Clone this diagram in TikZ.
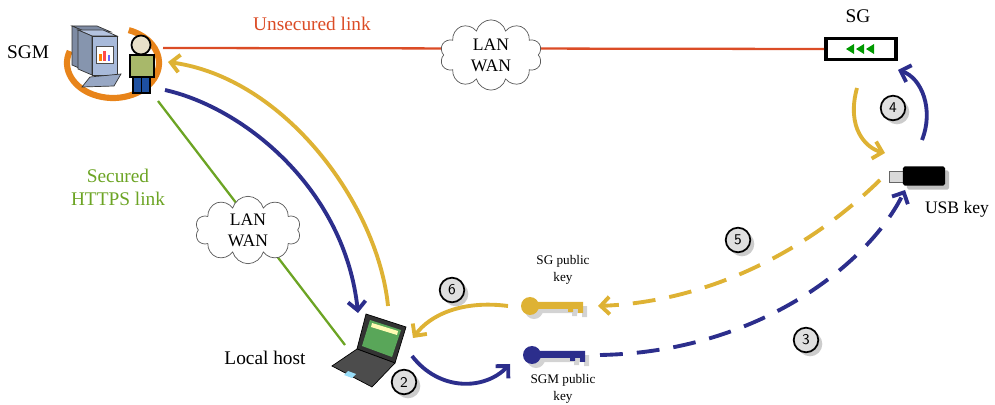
\documentclass[tikz,border=0pt]{standalone}
\usepackage{fontspec}
\setmainfont{Liberation Serif}
\usetikzlibrary{shapes.symbols,arrows.meta,shadows}
\definecolor{linkred}{RGB}{219,76,38}
\definecolor{httpsgreen}{RGB}{108,164,36}
\definecolor{keygold}{RGB}{222,178,52}
\definecolor{keyblue}{RGB}{44,46,140}
\definecolor{screenblue}{RGB}{168,186,218}
\definecolor{swirl}{RGB}{232,132,26}

% numbered step badge
\newcommand{\stepbadge}[3]{
    \node[circle, draw=black, line width=1pt, fill=gray!25, minimum size=14pt,
          inner sep=0pt, drop shadow={opacity=0.4}, font=\sffamily\fontsize{8.5}{8.5}\selectfont]
          (#1) at (#2) {#3};
}

% a key lying on its side, bit to the right
\newcommand{\drawkey}[3]{
    \begin{scope}[shift={(#1)}]
        \fill[#2, drop shadow={opacity=0.35}] (0,0) circle (9)
            (5,-4) -- (53,-4) -- (53,7) -- (48,7) -- (48,3) -- (43,3) -- (43,6)
            -- (38,6) -- (38,3) -- (5,3) -- cycle;
        \coordinate (#3-w) at (-22,0);
        \coordinate (#3-sw) at (-22,9);
        \coordinate (#3-e) at (68,0);
    \end{scope}
}

\begin{document}
\begin{tikzpicture}[x=0.02cm, y=-0.02cm,
    every node/.style={font=\fontsize{11}{13}\selectfont},
    netcloud/.style={cloud, cloud puffs=10, aspect=1.5, draw=gray!70!black, fill=white,
        inner sep=1pt, align=center, font=\fontsize{10}{12}\selectfont},
    flow/.style={line width=2.2pt, -{Straight Barb[length=5pt, width=10pt]}},
    dflow/.style={flow, dash pattern=on 13pt off 8pt}]

    \useasboundingbox (0,0) rectangle (995,405);

    % ---- SGM workstation ----
    \node (sgmlabel) at (28,52) {SGM};
    \draw[swirl, line width=3.5pt] (113,63) ++(-70:46 and 35) arc (-70:200:46 and 35);
    % computer: back box, front box, screen, keyboard
    \begin{scope}[shift={(-6,-4)}]
        \filldraw[fill=screenblue!75!black, draw=black!80] (92,36) -- (78,30) -- (103,30) -- (117,36) -- cycle;
        \filldraw[fill=screenblue!75!black, draw=black!80] (92,36) -- (78,30) -- (78,69) -- (92,75) -- cycle;
    \end{scope}
    \filldraw[fill=screenblue!85!white, draw=black!80] (92,36) -- (78,30) -- (103,30) -- (117,36) -- cycle;
    \filldraw[fill=screenblue!80!black, draw=black!80] (92,36) -- (78,30) -- (78,69) -- (92,75) -- cycle;
    \filldraw[fill=screenblue, draw=black!80] (92,36) rectangle (117,75);
    \filldraw[fill=white, draw=black!70] (96,46) rectangle (113,63);
    \fill[orange] (99,54) rectangle (101.5,61);
    \fill[red!70] (103,51) rectangle (105.5,61);
    \fill[blue!60] (107.5,55) rectangle (110,61);
    \filldraw[fill=screenblue!90!black, draw=black!80] (90,77) -- (121,74) -- (114,86) -- (82,87) -- cycle;
    % person
    \filldraw[fill={rgb,255:red,232;green,224;blue,202}, draw=black, line width=1pt] (141,45) circle (9.5);
    \filldraw[fill={rgb,255:red,168;green,184;blue,106}, draw=black, line width=1pt] (130,55) rectangle (154,77);
    \filldraw[fill={rgb,255:red,30;green,80;blue,160}, draw=black, line width=1pt] (133,77) rectangle (150,93);
    \draw[black, line width=1pt] (141.5,77) -- (141.5,93);
    \coordinate (sgm-red) at (163,48);
    \coordinate (sgm-in) at (168,62);
    \coordinate (sgm-out) at (165,90);
    \coordinate (sgm-green) at (158,101);

    % ---- SG gateway ----
    \node (sglabel) at (858,16) {SG};
    \node[draw=black, line width=2pt, fill=white, minimum width=40pt, minimum height=12pt] (sg) at (861,49) {};
    \foreach \x in {846,856,866}
        \fill[green!60!black] (\x,49) -- (\x+8,44) -- (\x+8,54) -- cycle;
    \coordinate (sg-in) at (898,70);
    \coordinate (sg-out) at (857,88);

    % ---- USB key ----
    \filldraw[fill=gray!30, draw=black!60] (889,171) rectangle (903,182);
    \node[fill=black, minimum width=24pt, minimum height=11pt, inner sep=0pt,
          drop shadow={opacity=0.5}, rounded corners=1pt] (usb) at (924,176) {};
    \node[font=\fontsize{10}{12}\selectfont] (usblabel) at (957,209) {USB key};
    \coordinate (usb-in) at (885,153);
    \coordinate (usb-out) at (922,140);
    \coordinate (usb-sw) at (880,180);
    \coordinate (usb-s) at (905,190);

    % ---- Local host laptop ----
    \filldraw[fill=black!80, draw=black] (366,314) -- (406,327) -- (395,363) -- (357,349) -- cycle;
    \fill[gray!70!green] (370,320) -- (401,330) -- (392,357) -- (362,346) -- cycle;
    \fill[white!70!yellow] (372,323) -- (398,331) -- (397,335) -- (371,327) -- cycle;
    \filldraw[fill=black!70, draw=black] (357,349) -- (395,363) -- (372,387) -- (332,366) -- cycle;
    \fill[cyan!40] (348,371) -- (356,374) -- (352,378) -- (344,375) -- cycle;
    \node (lhlabel) at (265,358) {Local host};
    \coordinate (lhost-in) at (358,313);
    \coordinate (lhost-out) at (388,306);
    \coordinate (lhost-key) at (413,338);
    \coordinate (lhost-blue) at (412,356);
    \coordinate (lhost-green) at (345,345);

    % ---- public keys ----
    \drawkey{530,306}{keygold}{sgkey}
    \drawkey{532,355}{keyblue}{sgmkey}
    \node[align=center, font=\fontsize{7.5}{10}\selectfont] (sgkeylabel) at (563,270) {SG public\\key};
    \node[align=center, font=\fontsize{7.5}{10}\selectfont] (sgmkeylabel) at (563,389) {SGM public\\key};

    % ---- links ----
    \draw[linkred, line width=1.3pt] (sgm-red) -- (sg.west);
    \node[text=linkred] (redlabel) at (312,24) {Unsecured link};
    \draw[httpsgreen, line width=1.3pt] (sgm-green) -- (lhost-green);
    \node[text=httpsgreen, align=center] (greenlabel) at (118,187) {Secured\\HTTPS link};

    \node[netcloud, minimum width=58pt, minimum height=40pt] (cloudtop) at (491,55) {LAN\\WAN};
    \node[netcloud, minimum width=60pt, minimum height=36pt] (cloudside) at (248,230) {LAN\\WAN};

    % ---- message flows ----
    \draw[flow, keyblue] (sgm-out) .. controls (245,108) and (345,190) .. (lhost-in);
    \draw[flow, keygold] (lhost-out) .. controls (378,205) and (285,78) .. (sgm-in);
    \draw[flow, keyblue] (lhost-blue) .. controls (440,392) and (485,390) .. (sgmkey-sw);
    \draw[dflow, keyblue] (sgmkey-e) .. controls (760,352) and (870,262) .. (usb-s);
    \draw[flow, keygold] (sg-out) .. controls (846,128) and (866,148) .. (usb-in);
    \draw[flow, keyblue] (usb-out) .. controls (934,110) and (922,78) .. (sg-in);
    \draw[dflow, keygold] (usb-sw) .. controls (800,258) and (700,302) .. (sgkey-e);
    \draw[flow, keygold] (sgkey-w) .. controls (462,300) and (430,315) .. (lhost-key);

    % ---- step numbers ----
    \stepbadge{s2}{404,382}{2}
    \stepbadge{s3}{806,340}{3}
    \stepbadge{s4}{893,108}{4}
    \stepbadge{s5}{738,240}{5}
    \stepbadge{s6}{452,290}{6}
\end{tikzpicture}
\end{document}
